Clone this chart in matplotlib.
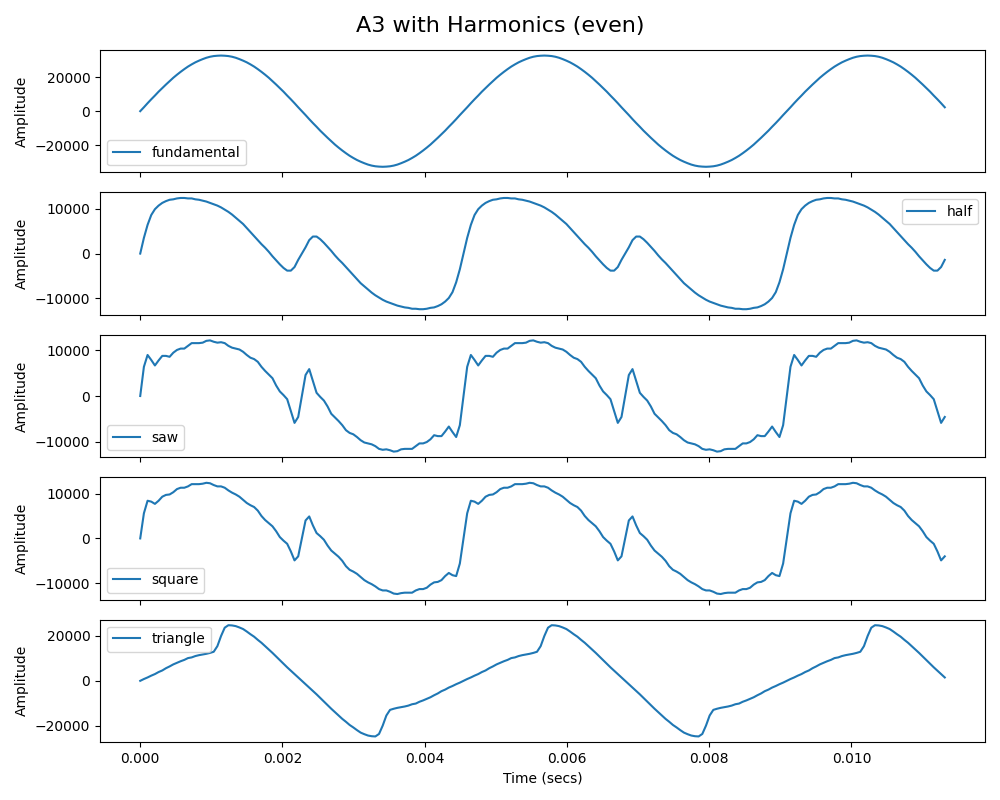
import numpy as np
import matplotlib
matplotlib.use("Agg")
import matplotlib.pyplot as plt

# ---- data (A3 = 220 Hz, 88 samples per period) ----
title = "A3 with Harmonics (even)"
x_label = "Time (secs)"
y_label = "Amplitude"
labels = ["fundamental", "half", "saw", "square", "triangle"]
legend_locs = ["lower left", "upper right", "lower left", "lower left", "upper left"]

sample_step = 1 / 220 / 88

fundamental = [
    0, 2300, 4700, 7000, 9200, 11500, 13600, 15700, 17700, 19700, 21500, 23200, 24800, 26300, 27600, 28800, 29800, 30700, 31500, 32100, 32500, 32700,
    32800, 32700, 32500, 32100, 31500, 30700, 29800, 28800, 27600, 26300, 24800, 23200, 21500, 19700, 17700, 15700, 13600, 11500, 9200, 7000, 4700, 2300,
    0, -2300, -4700, -7000, -9200, -11500, -13600, -15700, -17700, -19700, -21500, -23200, -24800, -26300, -27600, -28800, -29800, -30700, -31500, -32100, -32500, -32700,
    -32800, -32700, -32500, -32100, -31500, -30700, -29800, -28800, -27600, -26300, -24800, -23200, -21500, -19700, -17700, -15700, -13600, -11500, -9200, -7000, -4700, -2300,
    0, 2300, 4700, 7000, 9200, 11500, 13600, 15700, 17700, 19700, 21500, 23200, 24800, 26300, 27600, 28800, 29800, 30700, 31500, 32100, 32500, 32700,
    32800, 32700, 32500, 32100, 31500, 30700, 29800, 28800, 27600, 26300, 24800, 23200, 21500, 19700, 17700, 15700, 13600, 11500, 9200, 7000, 4700, 2300,
    0, -2300, -4700, -7000, -9200, -11500, -13600, -15700, -17700, -19700, -21500, -23200, -24800, -26300, -27600, -28800, -29800, -30700, -31500, -32100, -32500, -32700,
    -32800, -32700, -32500, -32100, -31500, -30700, -29800, -28800, -27600, -26300, -24800, -23200, -21500, -19700, -17700, -15700, -13600, -11500, -9200, -7000, -4700, -2300,
    0, 2300, 4700, 7000, 9200, 11500, 13600, 15700, 17700, 19700, 21500, 23200, 24800, 26300, 27600, 28800, 29800, 30700, 31500, 32100, 32500, 32700,
    32800, 32700, 32500, 32100, 31500, 30700, 29800, 28800, 27600, 26300, 24800, 23200, 21500, 19700, 17700, 15700, 13600, 11500, 9200, 7000, 4700, 2300,
]

half = [
    0, 3500, 6400, 8600, 9900, 10700, 11300, 11700, 12000, 12100, 12300, 12400, 12400, 12300, 12300, 12100, 12000, 11800, 11600, 11300, 11000, 10700,
    10300, 9800, 9300, 8700, 8000, 7300, 6600, 5700, 4800, 3900, 3000, 2100, 1300, 400, -600, -1500, -2400, -3200, -3800, -3800, -3000, -1400,
    0, 1400, 3000, 3800, 3800, 3200, 2400, 1500, 600, -400, -1300, -2100, -3000, -3900, -4800, -5700, -6600, -7300, -8000, -8700, -9300, -9800,
    -10300, -10700, -11000, -11300, -11600, -11800, -12000, -12100, -12300, -12300, -12400, -12400, -12300, -12100, -12000, -11700, -11300, -10700, -9900, -8600, -6400, -3500,
    0, 3500, 6400, 8600, 9900, 10700, 11300, 11700, 12000, 12100, 12300, 12400, 12400, 12300, 12300, 12100, 12000, 11800, 11600, 11300, 11000, 10700,
    10300, 9800, 9300, 8700, 8000, 7300, 6600, 5700, 4800, 3900, 3000, 2100, 1300, 400, -600, -1500, -2400, -3200, -3800, -3800, -3000, -1400,
    0, 1400, 3000, 3800, 3800, 3200, 2400, 1500, 600, -400, -1300, -2100, -3000, -3900, -4800, -5700, -6600, -7300, -8000, -8700, -9300, -9800,
    -10300, -10700, -11000, -11300, -11600, -11800, -12000, -12100, -12300, -12300, -12400, -12400, -12300, -12100, -12000, -11700, -11300, -10700, -9900, -8600, -6400, -3500,
    0, 3500, 6400, 8600, 9900, 10700, 11300, 11700, 12000, 12100, 12300, 12400, 12400, 12300, 12300, 12100, 12000, 11800, 11600, 11300, 11000, 10700,
    10300, 9800, 9300, 8700, 8000, 7300, 6600, 5700, 4800, 3900, 3000, 2100, 1300, 400, -600, -1500, -2400, -3200, -3800, -3800, -3000, -1400,
]

saw = [
    0, 6400, 9000, 7900, 6700, 7800, 8800, 8800, 8600, 9500, 10100, 10400, 10400, 11000, 11600, 11600, 11600, 11700, 12100, 12200, 11900, 11700,
    11800, 11600, 11000, 10600, 10400, 10200, 9700, 9000, 8400, 8100, 7500, 6400, 5500, 4700, 3900, 2300, 1000, 200, -700, -3300, -5900, -4600,
    0, 4600, 5900, 3300, 700, -200, -1000, -2300, -3900, -4700, -5500, -6400, -7500, -8100, -8400, -9000, -9700, -10200, -10400, -10600, -11000, -11600,
    -11800, -11700, -11900, -12200, -12100, -11700, -11600, -11600, -11600, -11000, -10400, -10400, -10100, -9500, -8600, -8800, -8800, -7800, -6700, -7900, -9000, -6400,
    0, 6400, 9000, 7900, 6700, 7800, 8800, 8800, 8600, 9500, 10100, 10400, 10400, 11000, 11600, 11600, 11600, 11700, 12100, 12200, 11900, 11700,
    11800, 11600, 11000, 10600, 10400, 10200, 9700, 9000, 8400, 8100, 7500, 6400, 5500, 4700, 3900, 2300, 1000, 200, -700, -3300, -5900, -4600,
    0, 4600, 5900, 3300, 700, -200, -1000, -2300, -3900, -4700, -5500, -6400, -7500, -8100, -8400, -9000, -9700, -10200, -10400, -10600, -11000, -11600,
    -11800, -11700, -11900, -12200, -12100, -11700, -11600, -11600, -11600, -11000, -10400, -10400, -10100, -9500, -8600, -8800, -8800, -7800, -6700, -7900, -9000, -6400,
    0, 6400, 9000, 7900, 6700, 7800, 8800, 8800, 8600, 9500, 10100, 10400, 10400, 11000, 11600, 11600, 11600, 11700, 12100, 12200, 11900, 11700,
    11800, 11600, 11000, 10600, 10400, 10200, 9700, 9000, 8400, 8100, 7500, 6400, 5500, 4700, 3900, 2300, 1000, 200, -700, -3300, -5900, -4600,
]

square = [
    0, 5600, 8400, 8200, 7700, 8400, 9300, 9700, 9800, 10300, 11000, 11300, 11300, 11600, 12100, 12100, 12100, 12200, 12400, 12300, 11900, 11600,
    11600, 11300, 10700, 10200, 9800, 9300, 8600, 7900, 7400, 7000, 6200, 5000, 4100, 3400, 2700, 1600, 300, -500, -1200, -2900, -4900, -4000,
    0, 4000, 4900, 2900, 1200, 500, -300, -1600, -2700, -3400, -4100, -5000, -6200, -7000, -7400, -7900, -8600, -9300, -9800, -10200, -10700, -11300,
    -11600, -11600, -11900, -12300, -12400, -12200, -12100, -12100, -12100, -11600, -11300, -11300, -11000, -10300, -9800, -9700, -9300, -8400, -7700, -8200, -8400, -5600,
    0, 5600, 8400, 8200, 7700, 8400, 9300, 9700, 9800, 10300, 11000, 11300, 11300, 11600, 12100, 12100, 12100, 12200, 12400, 12300, 11900, 11600,
    11600, 11300, 10700, 10200, 9800, 9300, 8600, 7900, 7400, 7000, 6200, 5000, 4100, 3400, 2700, 1600, 300, -500, -1200, -2900, -4900, -4000,
    0, 4000, 4900, 2900, 1200, 500, -300, -1600, -2700, -3400, -4100, -5000, -6200, -7000, -7400, -7900, -8600, -9300, -9800, -10200, -10700, -11300,
    -11600, -11600, -11900, -12300, -12400, -12200, -12100, -12100, -12100, -11600, -11300, -11300, -11000, -10300, -9800, -9700, -9300, -8400, -7700, -8200, -8400, -5600,
    0, 5600, 8400, 8200, 7700, 8400, 9300, 9700, 9800, 10300, 11000, 11300, 11300, 11600, 12100, 12100, 12100, 12200, 12400, 12300, 11900, 11600,
    11600, 11300, 10700, 10200, 9800, 9300, 8600, 7900, 7400, 7000, 6200, 5000, 4100, 3400, 2700, 1600, 300, -500, -1200, -2900, -4900, -4000,
]

triangle = [
    0, 800, 1500, 2300, 3000, 3900, 4600, 5600, 6400, 7300, 8000, 8700, 9300, 10100, 10400, 11000, 11400, 11700, 12000, 12400, 12900, 15400,
    19900, 23600, 24700, 24600, 24300, 23700, 23000, 21900, 20700, 19600, 18200, 16900, 15400, 13900, 12400, 10800, 9200, 7600, 6000, 4500, 3000, 1500,
    0, -1500, -3000, -4500, -6000, -7600, -9200, -10800, -12400, -13900, -15400, -16900, -18200, -19600, -20700, -21900, -23000, -23700, -24300, -24600, -24700, -23600,
    -19900, -15400, -12900, -12400, -12000, -11700, -11400, -11000, -10400, -10100, -9300, -8700, -8000, -7300, -6400, -5600, -4600, -3900, -3000, -2300, -1500, -800,
    0, 800, 1500, 2300, 3000, 3900, 4600, 5600, 6400, 7300, 8000, 8700, 9300, 10100, 10400, 11000, 11400, 11700, 12000, 12400, 12900, 15400,
    19900, 23600, 24700, 24600, 24300, 23700, 23000, 21900, 20700, 19600, 18200, 16900, 15400, 13900, 12400, 10800, 9200, 7600, 6000, 4500, 3000, 1500,
    0, -1500, -3000, -4500, -6000, -7600, -9200, -10800, -12400, -13900, -15400, -16900, -18200, -19600, -20700, -21900, -23000, -23700, -24300, -24600, -24700, -23600,
    -19900, -15400, -12900, -12400, -12000, -11700, -11400, -11000, -10400, -10100, -9300, -8700, -8000, -7300, -6400, -5600, -4600, -3900, -3000, -2300, -1500, -800,
    0, 800, 1500, 2300, 3000, 3900, 4600, 5600, 6400, 7300, 8000, 8700, 9300, 10100, 10400, 11000, 11400, 11700, 12000, 12400, 12900, 15400,
    19900, 23600, 24700, 24600, 24300, 23700, 23000, 21900, 20700, 19600, 18200, 16900, 15400, 13900, 12400, 10800, 9200, 7600, 6000, 4500, 3000, 1500,
]

series = [fundamental, half, saw, square, triangle]

fig, axes = plt.subplots(5, 1, figsize=(10, 8), dpi=100, sharex=True)
fig.subplots_adjust(left=0.1, right=0.985, top=0.9375, bottom=0.0725, hspace=0.164)
fig.suptitle(title, fontsize=16)

for ax, values, lab, loc in zip(axes, series, labels, legend_locs):
    t = np.arange(len(values)) * sample_step
    ax.plot(t, values, color="#1f77b4", label=lab)
    ax.set_ylabel(y_label)
    ax.legend(loc=loc)

axes[-1].set_xlabel(x_label)
fig.savefig("out.png", dpi=100)
